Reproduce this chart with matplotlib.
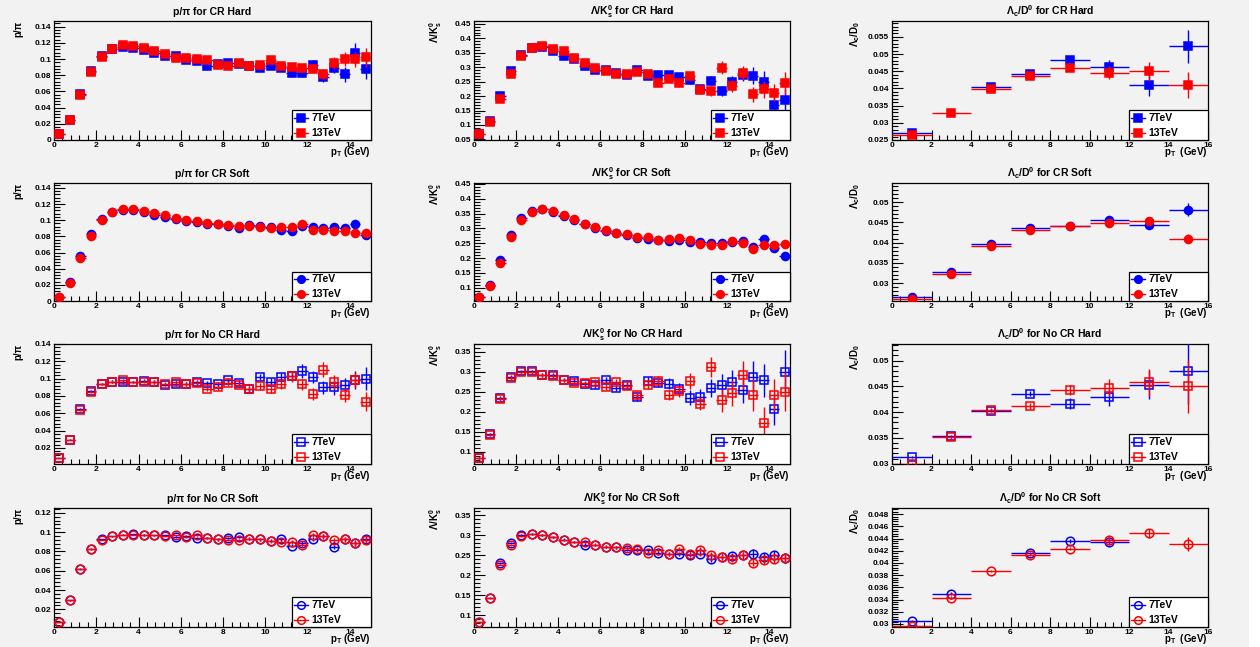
import numpy as np
import matplotlib
matplotlib.use("Agg")
import matplotlib.pyplot as plt
from matplotlib.ticker import MultipleLocator, AutoMinorLocator, FuncFormatter
from matplotlib.lines import Line2D
from matplotlib.patches import Rectangle

plt.rcParams['font.family'] = ['Liberation Sans', 'DejaVu Sans']
plt.rcParams['font.weight'] = 'bold'
plt.rcParams['mathtext.fontset'] = 'custom'
plt.rcParams['mathtext.rm'] = 'Liberation Sans:bold'
plt.rcParams['mathtext.it'] = 'Liberation Sans:bold'
plt.rcParams['mathtext.bf'] = 'Liberation Sans:bold'
plt.rcParams['mathtext.default'] = 'rm'

nan = np.nan

# pT binning: 0.5 GeV bins for light hadrons, 2 GeV bins for charm
pt_fine = [0.25, 0.75, 1.25, 1.75, 2.25, 2.75, 3.25, 3.75, 4.25, 4.75,
           5.25, 5.75, 6.25, 6.75, 7.25, 7.75, 8.25, 8.75, 9.25, 9.75,
           10.25, 10.75, 11.25, 11.75, 12.25, 12.75, 13.25, 13.75, 14.25, 14.75]
pt_coarse = [1, 3, 5, 7, 9, 11, 13, 15]

# ---- CR Hard ----
ppi_crh_7 = [0.0074, 0.0247, 0.0568, 0.0852, 0.1038, 0.1120, 0.1149, 0.1141, 0.1108, 0.1070,
             0.1038, 0.1038, 0.0992, 0.0972, 0.0914, 0.0939, 0.0955, 0.0935, 0.0914, 0.0893,
             0.0914, 0.0893, 0.0832, 0.0832, 0.0926, 0.0774, 0.0893, 0.0811, 0.1070, 0.0877]
ppi_crh_7e = [0.0003, 0.0005, 0.0008, 0.0009, 0.0010, 0.0010, 0.0011, 0.0012, 0.0013, 0.0014,
              0.0016, 0.0018, 0.0020, 0.0022, 0.0025, 0.0027, 0.0030, 0.0032, 0.0035, 0.0038,
              0.0040, 0.0044, 0.0050, 0.0052, 0.0058, 0.0060, 0.0070, 0.0095, 0.0130, 0.0120]
ppi_crh_13 = [0.0074, 0.0247, 0.0552, 0.0840, 0.1025, 0.1128, 0.1169, 0.1157, 0.1141, 0.1100,
              0.1066, 0.1017, 0.1013, 0.1000, 0.0988, 0.0926, 0.0914, 0.0947, 0.0914, 0.0922,
              0.0984, 0.0914, 0.0906, 0.0885, 0.0881, 0.0815, 0.0955, 0.1000, 0.0996, 0.1021]
ppi_crh_13e = [0.0003, 0.0005, 0.0008, 0.0009, 0.0010, 0.0010, 0.0011, 0.0011, 0.0012, 0.0013,
               0.0015, 0.0017, 0.0019, 0.0021, 0.0023, 0.0025, 0.0027, 0.0030, 0.0032, 0.0035,
               0.0038, 0.0040, 0.0045, 0.0050, 0.0055, 0.0065, 0.0075, 0.0090, 0.0090, 0.0120]

lk_crh_7 = [0.0690, 0.1127, 0.2002, 0.2865, 0.3418, 0.3660, 0.3694, 0.3567, 0.3383, 0.3290,
            0.3038, 0.2911, 0.2900, 0.2785, 0.2738, 0.2900, 0.2692, 0.2727, 0.2727, 0.2670,
            0.2543, 0.2232, 0.2531, 0.2186, 0.2497, 0.2727, 0.2704, 0.2497, 0.1679, 0.1863]
lk_crh_7e = [0.002, 0.003, 0.004, 0.004, 0.004, 0.004, 0.004, 0.005, 0.005, 0.005,
             0.006, 0.006, 0.007, 0.007, 0.008, 0.008, 0.009, 0.010, 0.011, 0.012,
             0.013, 0.015, 0.016, 0.018, 0.020, 0.022, 0.030, 0.038, 0.032, 0.040]
lk_crh_13 = [0.0689, 0.1092, 0.1910, 0.2761, 0.3383, 0.3670, 0.3730, 0.3636, 0.3556, 0.3303,
             0.3141, 0.2969, 0.2854, 0.2750, 0.2750, 0.2819, 0.2750, 0.2462, 0.2600, 0.2439,
             0.2681, 0.2209, 0.2174, 0.2980, 0.2347, 0.2785, 0.2059, 0.2232, 0.2117, 0.2462]
lk_crh_13e = [0.002, 0.003, 0.003, 0.004, 0.004, 0.004, 0.004, 0.004, 0.005, 0.005,
              0.005, 0.006, 0.006, 0.007, 0.007, 0.008, 0.009, 0.009, 0.010, 0.011,
              0.012, 0.014, 0.016, 0.022, 0.020, 0.024, 0.025, 0.030, 0.030, 0.038]

lcd_crh_7 = [0.02713, nan, 0.0403, 0.04426, 0.0484, 0.0462, 0.04087, 0.0523]
lcd_crh_7e = [0.0003, nan, 0.0004, 0.0005, 0.0010, 0.0020, 0.0031, 0.0048]
lcd_crh_13 = [0.02655, 0.03284, 0.0399, 0.04368, 0.0460, 0.04455, 0.04494, 0.04087]
lcd_crh_13e = [0.0003, 0.0003, 0.0004, 0.0006, 0.0010, 0.0019, 0.0028, 0.0038]

# ---- CR Soft ----
ppi_crs_7 = [0.0055, 0.0235, 0.0553, 0.0834, 0.1016, 0.1107, 0.1132, 0.1132, 0.1099, 0.1066,
             0.1041, 0.1020, 0.0991, 0.0979, 0.0954, 0.0954, 0.0933, 0.0909, 0.0942, 0.0925,
             0.0913, 0.0880, 0.0871, 0.0925, 0.0917, 0.0909, 0.0917, 0.0909, 0.0958, 0.0814]
ppi_crs_7e = [0.0002, 0.0003, 0.0004, 0.0005, 0.0005, 0.0005, 0.0005, 0.0005, 0.0005, 0.0006,
              0.0006, 0.0007, 0.0007, 0.0008, 0.0008, 0.0009, 0.0010, 0.0011, 0.0012, 0.0012,
              0.0013, 0.0014, 0.0015, 0.0016, 0.0017, 0.0018, 0.0019, 0.0020, 0.0022, 0.0024]
ppi_crs_13 = [0.0054, 0.0227, 0.0533, 0.0805, 0.1008, 0.1099, 0.1140, 0.1140, 0.1119, 0.1090,
              0.1061, 0.1024, 0.1004, 0.0991, 0.0966, 0.0954, 0.0946, 0.0933, 0.0925, 0.0917,
              0.0900, 0.0913, 0.0913, 0.0950, 0.0880, 0.0880, 0.0863, 0.0871, 0.0847, 0.0847]
ppi_crs_13e = [0.0002, 0.0003, 0.0004, 0.0004, 0.0005, 0.0005, 0.0005, 0.0005, 0.0005, 0.0006,
               0.0006, 0.0006, 0.0007, 0.0007, 0.0008, 0.0009, 0.0009, 0.0010, 0.0011, 0.0012,
               0.0012, 0.0013, 0.0014, 0.0015, 0.0016, 0.0017, 0.0018, 0.0019, 0.0020, 0.0022]

lk_crs_7 = [0.0700, 0.1101, 0.1934, 0.2778, 0.3341, 0.3600, 0.3645, 0.3543, 0.3420, 0.3273,
            0.3138, 0.3003, 0.2913, 0.2857, 0.2767, 0.2666, 0.2632, 0.2609, 0.2587, 0.2609,
            0.2542, 0.2542, 0.2519, 0.2497, 0.2553, 0.2575, 0.2362, 0.2643, 0.2339, 0.2069]
lk_crs_7e = [0.001, 0.002, 0.002, 0.002, 0.002, 0.002, 0.002, 0.002, 0.002, 0.002,
             0.003, 0.003, 0.003, 0.003, 0.003, 0.003, 0.004, 0.004, 0.004, 0.004,
             0.005, 0.005, 0.005, 0.006, 0.006, 0.007, 0.008, 0.009, 0.010, 0.012]
lk_crs_13 = [0.0696, 0.1056, 0.1844, 0.2699, 0.3284, 0.3566, 0.3667, 0.3577, 0.3442, 0.3330,
             0.3149, 0.3037, 0.2958, 0.2834, 0.2812, 0.2722, 0.2722, 0.2609, 0.2643, 0.2666,
             0.2609, 0.2474, 0.2429, 0.2429, 0.2564, 0.2519, 0.2294, 0.2452, 0.2452, 0.2463]
lk_crs_13e = [0.001, 0.002, 0.002, 0.002, 0.002, 0.002, 0.002, 0.002, 0.002, 0.002,
              0.002, 0.003, 0.003, 0.003, 0.003, 0.003, 0.004, 0.004, 0.004, 0.004,
              0.005, 0.005, 0.005, 0.005, 0.006, 0.006, 0.007, 0.008, 0.008, 0.009]

lcd_crs_7 = [0.0267, 0.0327, 0.0396, 0.0437, 0.0442, 0.0455, 0.0444, 0.0481]
lcd_crs_7e = [0.0002, 0.0002, 0.0002, 0.0003, 0.0003, 0.0004, 0.0008, 0.0016]
lcd_crs_13 = [0.0260, 0.0322, 0.0391, 0.0432, 0.0442, 0.0449, 0.0454, 0.0410]
lcd_crs_13e = [0.0002, 0.0002, 0.0002, 0.0003, 0.0003, 0.0004, 0.0008, 0.0010]

# ---- No CR Hard ----
ppi_nch_7 = [0.0085, 0.0296, 0.0650, 0.0862, 0.0942, 0.0965, 0.0958, 0.0962, 0.0977, 0.0962,
             0.0931, 0.0935, 0.0942, 0.0958, 0.0950, 0.0935, 0.0981, 0.0950, 0.0881, 0.1019,
             0.0962, 0.1019, 0.1027, 0.1085, 0.1019, 0.0900, 0.0900, 0.0923, 0.0985, 0.1000]
ppi_nch_7e = [0.0004, 0.0006, 0.0010, 0.0012, 0.0013, 0.0014, 0.0015, 0.0016, 0.0017, 0.0018,
              0.0020, 0.0022, 0.0024, 0.0026, 0.0028, 0.0030, 0.0032, 0.0034, 0.0036, 0.0040,
              0.0045, 0.0050, 0.0055, 0.0080, 0.0070, 0.0075, 0.0085, 0.0085, 0.0100, 0.0130]
ppi_nch_13 = [0.0085, 0.0296, 0.0638, 0.0850, 0.0942, 0.0965, 0.0981, 0.0962, 0.0962, 0.0962,
              0.0942, 0.0958, 0.0942, 0.0950, 0.0885, 0.0900, 0.0946, 0.0927, 0.0881, 0.0912,
              0.0881, 0.0935, 0.1027, 0.0935, 0.0827, 0.1104, 0.0962, 0.0815, 0.0985, 0.0735]
ppi_nch_13e = [0.0004, 0.0006, 0.0010, 0.0012, 0.0013, 0.0014, 0.0015, 0.0016, 0.0017, 0.0018,
               0.0020, 0.0022, 0.0024, 0.0026, 0.0028, 0.0030, 0.0032, 0.0034, 0.0036, 0.0040,
               0.0045, 0.0050, 0.0060, 0.0065, 0.0070, 0.0090, 0.0080, 0.0080, 0.0095, 0.0110]

lk_nch_7 = [0.0850, 0.1442, 0.2358, 0.2875, 0.3017, 0.3017, 0.2925, 0.2933, 0.2808, 0.2783,
            0.2692, 0.2667, 0.2800, 0.2600, 0.2675, 0.2375, 0.2783, 0.2725, 0.2708, 0.2575,
            0.2358, 0.2367, 0.2600, 0.2667, 0.2758, 0.2558, 0.2875, 0.2792, 0.2067, 0.2992]
lk_nch_7e = [0.002, 0.003, 0.004, 0.004, 0.004, 0.004, 0.005, 0.005, 0.005, 0.006,
             0.006, 0.007, 0.007, 0.008, 0.008, 0.009, 0.010, 0.011, 0.013, 0.014,
             0.018, 0.020, 0.022, 0.028, 0.030, 0.034, 0.040, 0.042, 0.040, 0.055]
lk_nch_13 = [0.0850, 0.1425, 0.2325, 0.2850, 0.2992, 0.2992, 0.2925, 0.2908, 0.2808, 0.2717,
             0.2725, 0.2750, 0.2625, 0.2750, 0.2642, 0.2425, 0.2683, 0.2783, 0.2425, 0.2525,
             0.2783, 0.2208, 0.3125, 0.2292, 0.2475, 0.2933, 0.2433, 0.1717, 0.2433, 0.2508]
lk_nch_13e = [0.002, 0.003, 0.004, 0.004, 0.004, 0.004, 0.005, 0.005, 0.005, 0.006,
              0.006, 0.007, 0.007, 0.008, 0.008, 0.009, 0.010, 0.012, 0.013, 0.014,
              0.020, 0.016, 0.026, 0.028, 0.032, 0.035, 0.040, 0.040, 0.040, 0.048]

lcd_nch_7 = [0.03123, 0.03542, 0.04026, 0.04355, 0.04161, 0.0429, 0.04529, 0.04806]
lcd_nch_7e = [0.0002, 0.0002, 0.0003, 0.0005, 0.0011, 0.0018, 0.0027, 0.0065]
lcd_nch_13 = [0.0300, 0.0351, 0.04045, 0.04123, 0.04432, 0.04477, 0.0458, 0.04497]
lcd_nch_13e = [0.0002, 0.0003, 0.0003, 0.0006, 0.0010, 0.0017, 0.0026, 0.0052]

# ---- No CR Soft ----
ppi_ncs_7 = [0.0069, 0.0293, 0.0621, 0.0828, 0.0928, 0.0959, 0.0972, 0.0979, 0.0972, 0.0966,
             0.0966, 0.0948, 0.0959, 0.0938, 0.0938, 0.0924, 0.0938, 0.0948, 0.0931, 0.0924,
             0.0910, 0.0924, 0.0859, 0.0886, 0.0924, 0.0955, 0.0845, 0.0924, 0.0886, 0.0931]
ppi_ncs_7e = [0.0002, 0.0003, 0.0004, 0.0005, 0.0005, 0.0006, 0.0006, 0.0006, 0.0007, 0.0007,
              0.0008, 0.0008, 0.0009, 0.0010, 0.0010, 0.0011, 0.0012, 0.0013, 0.0014, 0.0015,
              0.0016, 0.0017, 0.0018, 0.0019, 0.0021, 0.0022, 0.0024, 0.0026, 0.0028, 0.0030]
ppi_ncs_13 = [0.0069, 0.0293, 0.0614, 0.0821, 0.0921, 0.0955, 0.0972, 0.0972, 0.0972, 0.0966,
              0.0955, 0.0966, 0.0952, 0.0966, 0.0938, 0.0924, 0.0917, 0.0917, 0.0931, 0.0924,
              0.0903, 0.0897, 0.0900, 0.0862, 0.0966, 0.0955, 0.0914, 0.0924, 0.0883, 0.0921]
ppi_ncs_13e = [0.0002, 0.0003, 0.0004, 0.0005, 0.0005, 0.0006, 0.0006, 0.0006, 0.0007, 0.0007,
               0.0008, 0.0008, 0.0009, 0.0010, 0.0010, 0.0011, 0.0012, 0.0013, 0.0014, 0.0015,
               0.0016, 0.0017, 0.0018, 0.0019, 0.0020, 0.0021, 0.0023, 0.0025, 0.0027, 0.0029]

lk_ncs_7 = [0.0833, 0.1442, 0.2308, 0.2817, 0.3000, 0.3025, 0.3000, 0.2950, 0.2892, 0.2833,
            0.2767, 0.2750, 0.2717, 0.2700, 0.2642, 0.2625, 0.2625, 0.2567, 0.2542, 0.2542,
            0.2508, 0.2542, 0.2408, 0.2450, 0.2475, 0.2500, 0.2542, 0.2450, 0.2500, 0.2433]
lk_ncs_7e = [0.001, 0.002, 0.002, 0.002, 0.002, 0.002, 0.002, 0.002, 0.003, 0.003,
             0.003, 0.003, 0.003, 0.004, 0.004, 0.004, 0.004, 0.005, 0.005, 0.005,
             0.006, 0.006, 0.007, 0.007, 0.008, 0.009, 0.011, 0.010, 0.011, 0.012]
lk_ncs_13 = [0.0833, 0.1425, 0.2267, 0.2750, 0.2983, 0.3025, 0.3000, 0.2950, 0.2875, 0.2833,
             0.2833, 0.2767, 0.2717, 0.2700, 0.2683, 0.2658, 0.2567, 0.2633, 0.2542, 0.2667,
             0.2542, 0.2642, 0.2517, 0.2450, 0.2400, 0.2500, 0.2317, 0.2392, 0.2417, 0.2433]
lk_ncs_13e = [0.001, 0.002, 0.002, 0.002, 0.002, 0.002, 0.002, 0.002, 0.003, 0.003,
              0.003, 0.003, 0.003, 0.004, 0.004, 0.004, 0.004, 0.005, 0.005, 0.005,
              0.006, 0.006, 0.006, 0.007, 0.007, 0.008, 0.009, 0.010, 0.010, 0.011]

lcd_ncs_7 = [0.0305, 0.03498, nan, 0.04165, 0.04357, 0.04346, nan, nan]
lcd_ncs_7e = [0.0002, 0.0002, nan, 0.0002, 0.0003, 0.0006, nan, nan]
lcd_ncs_13 = [0.02967, 0.03432, 0.0387, 0.04138, 0.04236, 0.04373, 0.04483, 0.04313]
lcd_ncs_13e = [0.0001, 0.0002, 0.0002, 0.0002, 0.0003, 0.0005, 0.0008, 0.0011]

row_names = ["CR Hard", "CR Soft", "No CR Hard", "No CR Soft"]
row_markers = [("s", True), ("o", True), ("s", False), ("o", False)]

ppi_rows = [(ppi_crh_7, ppi_crh_7e, ppi_crh_13, ppi_crh_13e),
            (ppi_crs_7, ppi_crs_7e, ppi_crs_13, ppi_crs_13e),
            (ppi_nch_7, ppi_nch_7e, ppi_nch_13, ppi_nch_13e),
            (ppi_ncs_7, ppi_ncs_7e, ppi_ncs_13, ppi_ncs_13e)]
lk_rows = [(lk_crh_7, lk_crh_7e, lk_crh_13, lk_crh_13e),
           (lk_crs_7, lk_crs_7e, lk_crs_13, lk_crs_13e),
           (lk_nch_7, lk_nch_7e, lk_nch_13, lk_nch_13e),
           (lk_ncs_7, lk_ncs_7e, lk_ncs_13, lk_ncs_13e)]
lcd_rows = [(lcd_crh_7, lcd_crh_7e, lcd_crh_13, lcd_crh_13e),
            (lcd_crs_7, lcd_crs_7e, lcd_crs_13, lcd_crs_13e),
            (lcd_nch_7, lcd_nch_7e, lcd_nch_13, lcd_nch_13e),
            (lcd_ncs_7, lcd_ncs_7e, lcd_ncs_13, lcd_ncs_13e)]

# y ranges and major tick step per (row, column)
ylims = [[(0.0, 0.147), (0.048, 0.460), (0.025, 0.0596)],
         [(0.0, 0.146), (0.055, 0.453), (0.0256, 0.0547)],
         [(0.0015, 0.140), (0.070, 0.370), (0.02995, 0.0532)],
         [(0.0017, 0.125), (0.071, 0.368), (0.0295, 0.0490)]]
ysteps = [[0.02, 0.05, 0.005],
          [0.02, 0.05, 0.005],
          [0.02, 0.05, 0.005],
          [0.02, 0.05, 0.002]]

BG = "#f2f2f2"
W, H = 1260, 647
col_left = [54, 474, 892]
col_w = [317, 316, 316]
row_top = [21, 183, 344, 508]
row_h = [119, 118, 120, 119]

fig = plt.figure(figsize=(12.6, 6.47), dpi=100, facecolor=BG)
fig.patches.append(Rectangle((1249 / W, 0), 1 - 1249 / W, 1, transform=fig.transFigure,
                             facecolor="white", edgecolor="none", zorder=-1))

fmt = FuncFormatter(lambda v, p: f"{v:g}")


def draw_legend(ax, marker, filled):
    ax.add_patch(Rectangle((0.75, 0.0), 0.25, 0.25, transform=ax.transAxes, facecolor="white",
                           edgecolor="black", lw=0.9, zorder=10, clip_on=False))
    for yy, col, lab in ((0.185, "blue", "7TeV"), (0.06, "red", "13TeV")):
        ax.add_line(Line2D([0.757, 0.779, 0.801], [yy, yy, yy], transform=ax.transAxes,
                           color=col, lw=1.0, marker=marker, markevery=[1], ms=5.5,
                           mfc=col if filled else "none", mec=col, mew=1.1, zorder=11))
        ax.text(0.812, yy, lab, transform=ax.transAxes, va="center", ha="left",
                fontsize=7.5, fontweight="bold", zorder=12)


for r in range(4):
    marker, filled = row_markers[r]
    for c in range(3):
        ax = fig.add_axes([col_left[c] / W, 1 - (row_top[r] + row_h[r]) / H,
                           col_w[c] / W, row_h[r] / H])
        ax.set_facecolor(BG)
        if c < 2:
            x, xe, xmax = pt_fine, 0.25, 15
            y7, e7, y13, e13 = (ppi_rows if c == 0 else lk_rows)[r]
        else:
            x, xe, xmax = pt_coarse, 1.0, 16
            y7, e7, y13, e13 = lcd_rows[r]

        for y, e, col, z in ((y7, e7, "blue", 3), (y13, e13, "red", 4)):
            ax.errorbar(x, y, xerr=xe, yerr=e, fmt=marker, color=col, ecolor=col,
                        mfc=col if filled else "none", mec=col,
                        ms=5.8 if filled else 6.2, mew=1.1, elinewidth=1.0,
                        capsize=0, zorder=z)

        ax.set_xlim(0, xmax)
        ax.set_ylim(*ylims[r][c])
        ax.xaxis.set_major_locator(MultipleLocator(2))
        ax.xaxis.set_minor_locator(AutoMinorLocator(5))
        ax.yaxis.set_major_locator(MultipleLocator(ysteps[r][c]))
        ax.yaxis.set_minor_locator(AutoMinorLocator(5))
        ax.xaxis.set_major_formatter(fmt)
        ax.yaxis.set_major_formatter(fmt)
        ax.tick_params(axis="both", which="both", direction="in", top=False, right=False,
                       labelsize=6, width=0.8)
        ax.tick_params(axis="y", which="major", length=8, pad=2)
        ax.tick_params(axis="y", which="minor", length=4)
        ax.tick_params(axis="x", which="major", length=7, pad=1.5)
        ax.tick_params(axis="x", which="minor", length=3.5)
        for sp in ax.spines.values():
            sp.set_linewidth(0.9)

        if c == 0:
            name, ylab = "p/\u03c0", "p/\u03c0"
        elif c == 1:
            name, ylab = "\u039b/K$^0_s$", "\u039b/K$^0_s$"
        else:
            name, ylab = "\u039b$_c$/D$^0$", "\u039b$_c$/D$_0$"
        ax.set_title(f"{name} for {row_names[r]}", fontsize=7.5, fontweight="bold", pad=4)
        ax.set_ylabel(ylab, fontsize=7, fontweight="bold", loc="top")
        ax.yaxis.set_label_coords(-0.095, 1.0)
        gap = "  " if c == 2 else " "
        ax.text(1.0, -0.045, f"p$_T${gap}(GeV)", transform=ax.transAxes, ha="right",
                va="top", fontsize=7, fontweight="bold")
        draw_legend(ax, marker, filled)

fig.savefig("out.png", dpi=100, facecolor=BG)
